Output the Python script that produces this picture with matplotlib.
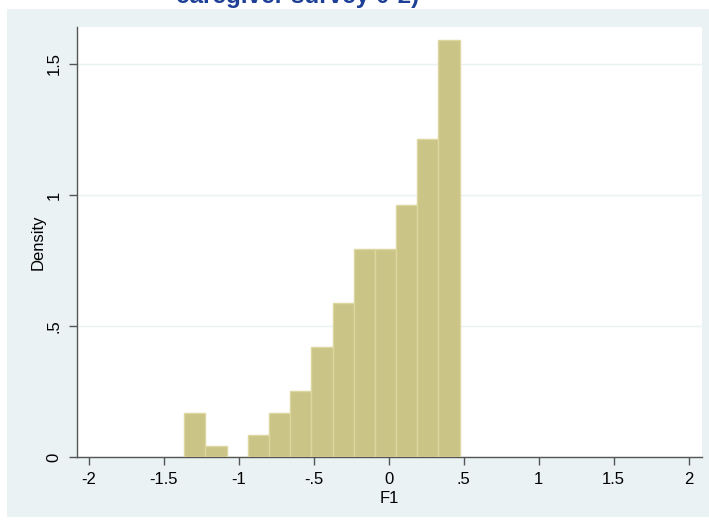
import matplotlib
matplotlib.use("Agg")
import matplotlib.pyplot as plt
from matplotlib.patches import Rectangle
import numpy as np

matplotlib.rcParams['font.family'] = ['Liberation Sans', 'DejaVu Sans']
matplotlib.rcParams['font.size'] = 12

# histogram of F1 (density), 13 equal-width bins
bin_start = -1.365
bin_width = 0.1414
density = [0.167, 0.042, 0.0, 0.084, 0.167, 0.251, 0.419,
           0.586, 0.795, 0.795, 0.963, 1.214, 1.59]

xticks = [-2, -1.5, -1, -0.5, 0, 0.5, 1, 1.5, 2]
xticklabels = ["-2", "-1.5", "-1", "-.5", "0", ".5", "1", "1.5", "2"]
yticks = [0, 0.5, 1, 1.5]
yticklabels = ["0", ".5", "1", "1.5"]

title_text = "caregiver survey 0-2)"

BG = "#eaf2f3"
BAR = "#cbc487"
EDGE = "#dcd69f"
AXC = "#555555"


def main():
    fig = plt.figure(figsize=(7.09, 5.23), dpi=100)
    fig.patch.set_facecolor("white")

    # stata style outer panel
    fig.patches.append(Rectangle((7 / 709, 6 / 523), 702 / 709, 508 / 523,
                                 transform=fig.transFigure, facecolor=BG,
                                 edgecolor="none", zorder=-5))

    ax = fig.add_axes([77 / 709, 1 - 457 / 523, 625 / 709, 430 / 523])
    ax.set_facecolor("white")
    ax.set_zorder(2)

    edges = bin_start + bin_width * np.arange(len(density))
    ax.bar(edges, density, width=bin_width, align="edge",
           color=BAR, edgecolor=EDGE, linewidth=1.0, zorder=3)

    ax.set_xlim(-2.08, 2.09)
    ax.set_ylim(0, 1.641)

    ax.set_xticks(xticks)
    ax.set_xticklabels(xticklabels)
    ax.set_yticks(yticks)
    ax.set_yticklabels(yticklabels, rotation=90, va="center")

    ax.grid(axis="y", color=BG, linewidth=1.0, zorder=1)
    ax.set_axisbelow(True)
    ax.tick_params(axis="both", length=6, width=1, color=AXC, pad=5)

    for s in ["top", "right"]:
        ax.spines[s].set_visible(False)
    for s in ["left", "bottom"]:
        ax.spines[s].set_color(AXC)
        ax.spines[s].set_linewidth(1.0)

    ax.set_xlabel("F1", labelpad=3)
    ax.set_ylabel("Density", labelpad=1)

    fig.text(298 / 709, 1 - 3 / 523, title_text, ha="center", va="baseline",
             fontsize=17.5, fontweight="bold", color="#1e3f96")

    fig.savefig("out.png", dpi=100, facecolor=fig.get_facecolor())


if __name__ == '__main__':
    main()
